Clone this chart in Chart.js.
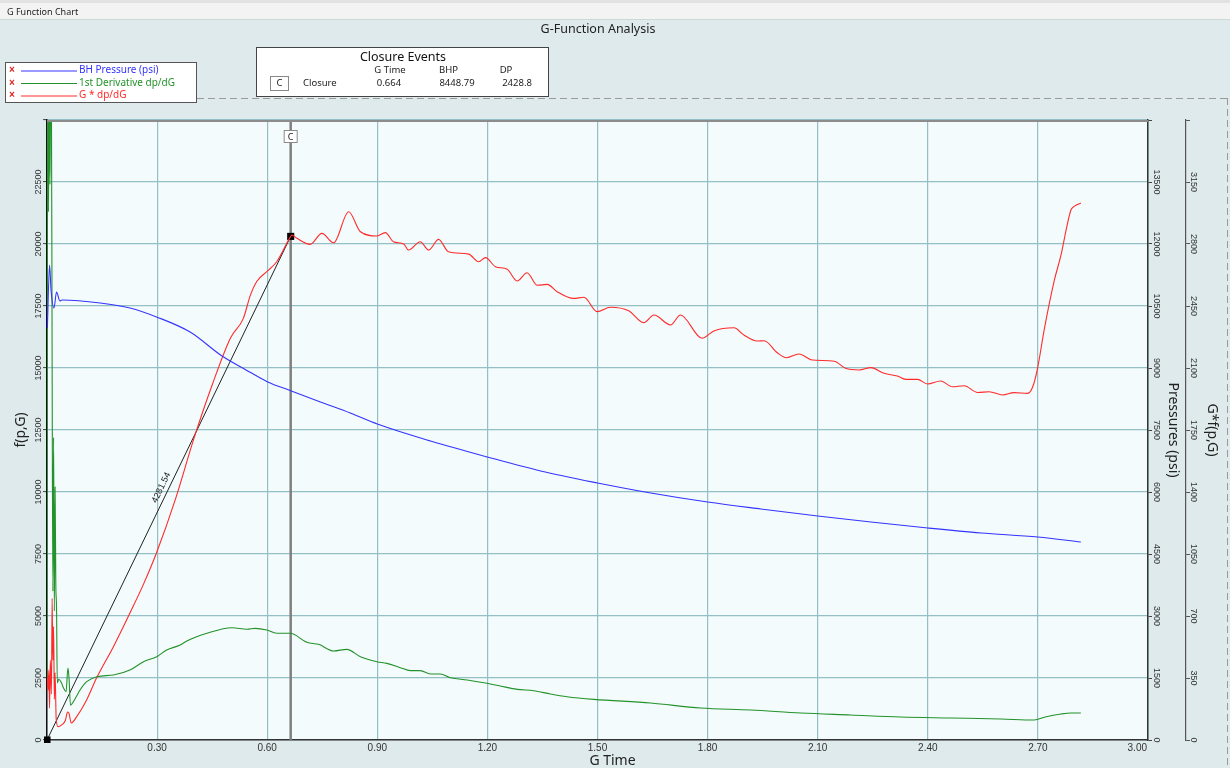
<!DOCTYPE html>
<html><head><meta charset="utf-8">
<script src="https://cdn.jsdelivr.net/npm/chart.js@4.4.1/dist/chart.umd.min.js"></script>
<style>html,body{margin:0;padding:0;background:#deeaeb;overflow:hidden}canvas{display:block}</style>
</head><body>
<canvas id="c" width="1230" height="768"></canvas>
<script>
// ---- data ----
const blueG = [0.001,0.007,0.011,0.019,0.026,0.035,0.041,0.145,0.226,0.300,0.390,0.477,0.540,0.600,0.664,0.745,0.826,0.900,1.045,1.200,1.345,1.500,1.645,1.800,1.945,2.100,2.245,2.400,2.545,2.700,2.817];
const blueP = [9968,11492,10887,10452,10839,10621,10645,10573,10452,10230,9870,9290,8965,8670,8449,8177,7911,7645,7234,6847,6508,6218,5976,5758,5589,5419,5274,5129,5008,4911,4790];

const greenG = [0.000,0.002,0.004,0.006,0.008,0.010,0.012,0.014,0.016,0.018,
  0.020,0.022,0.024,0.026,0.028,0.032,0.038,0.045,0.052,0.057,
  0.060,0.064,0.070,0.080,0.090,0.108,0.136,0.181,0.226,0.263,
  0.299,0.326,0.363,0.381,0.436,0.504,0.545,0.567,0.599,0.626,
  0.663,0.708,0.740,0.781,0.817,0.854,0.899,0.926,0.963,0.990,
  1.017,1.045,1.072,1.099,1.145,1.199,1.235,1.281,1.326,1.372,
  1.417,1.490,1.645,1.781,1.917,2.054,2.190,2.326,2.463,2.599,
  2.690,2.720,2.763,2.790,2.817];
const greenV = [2500,26000,21300,26000,22400,26000,26000,15000,6000,12200,
  5200,10200,6300,5300,2300,2450,2350,2100,1950,2900,
  2500,1400,1500,1750,2016,2352,2553,2621,2822,3157,
  3359,3629,3830,3992,4302,4529,4463,4503,4435,4302,
  4302,3938,3857,3589,3656,3360,3157,3091,2917,2796,
  2796,2661,2661,2513,2419,2285,2177,2043,1988,1855,
  1747,1640,1492,1290,1210,1089,1008,927,887,847,
  806,927,1048,1089,1089];

const redG = [0.000,0.003,0.005,0.007,0.009,0.012,0.014,0.016,0.018,0.020,0.022,0.025,0.030,0.040,0.050,0.056,0.060,0.066,0.081,0.108,
  0.135,0.181,0.226,0.263,0.299,0.350,0.400,0.450,0.500,0.535,0.554,0.572,0.599,0.626,0.664,
  0.667,0.681,0.717,0.749,0.781,0.822,0.854,0.899,0.922,0.944,0.972,0.985,1.017,1.040,1.067,1.094,1.149,1.176,1.195,1.222,
  1.254,1.281,1.308,1.336,1.363,1.390,1.435,1.463,1.499,1.535,1.585,1.626,1.654,1.699,1.726,1.785,1.817,1.872,1.899,1.935,
  1.954,1.990,2.015,2.049,2.085,2.145,2.176,2.213,2.245,2.281,2.317,2.340,2.372,2.399,2.435,2.467,2.499,2.536,2.567,2.604,
  2.635,2.672,2.686,2.699,2.717,2.745,2.763,2.778,2.790,2.800,2.817];
const redV = [395,280,395,180,450,260,800,450,640,230,380,120,75,85,110,158,150,96,132,226,
  350,527,717,880,1060,1360,1700,2004,2270,2380,2510,2590,2644,2700,2843,
  2851,2832,2798,2860,2807,2982,2869,2845,2864,2813,2800,2766,2813,2766,2826,2756,2743,2700,2723,2672,
  2657,2591,2638,2567,2572,2531,2493,2499,2418,2443,2423,2356,2399,2343,2399,2268,2309,2327,2286,2252,
  2254,2186,2158,2179,2145,2138,2098,2089,2102,2070,2055,2036,2036,2010,2027,1994,2000,1962,1966,1948,
  1961,1957,1994,2098,2314,2597,2738,2890,2992,3014,3031];

const closureG = 0.664, closureBHP = 8448.79, closureDP = 2428.8, tangentSlope = 4281.54;
const xMax = 3.0, xStep = 0.3;
const fMax = 25000, fStep = 2500;
const pMax = 15000, pStep = 1500;
const gfMax = 3500, gfStep = 350;

const seriesNames = ['BH Pressure (psi)', '1st Derivative dp/dG', 'G * dp/dG'];
const seriesColors = ['#3434ff', '#23922a', '#ff2a2a'];

const pts = (g, v) => g.map((x, i) => ({x, y: v[i]}));

// ---- helpers ----
function txt(ctx, s, x, y, font, color, align, baseline, angle) {
  ctx.save();
  ctx.translate(x, y);
  if (angle) ctx.rotate(angle);
  ctx.font = font; ctx.fillStyle = color;
  ctx.textAlign = align || 'center'; ctx.textBaseline = baseline || 'middle';
  ctx.fillText(s, 0, 0);
  ctx.restore();
}
const GRID = '#94bfc4';
const SANS = '"Noto Sans", "Liberation Sans", sans-serif';
const ARIAL = '"Liberation Sans", Arial, sans-serif';

const decor = {
  id: 'decor',
  beforeDraw(chart) {
    const {ctx, chartArea: a, width, height} = chart;
    ctx.save();
    ctx.fillStyle = '#deeaeb'; ctx.fillRect(0, 0, width, height);
    ctx.fillStyle = '#f3f3f3'; ctx.fillRect(0, 0, width, 19);
    ctx.fillStyle = '#e2e2e2'; ctx.fillRect(0, 0, width, 3);
    ctx.fillStyle = '#cfd8d8'; ctx.fillRect(0, 19, width, 1);
    txt(ctx, 'G Function Chart', 7, 12, '9px ' + SANS, '#222', 'left', 'middle');
    ctx.fillStyle = '#f3fbfc'; ctx.fillRect(a.left, a.top, a.right - a.left, a.bottom - a.top);
    ctx.restore();
  },
  beforeDatasetsDraw(chart) {
    const {ctx, chartArea: a} = chart;
    const cx = chart.scales.x.getPixelForValue(closureG);
    ctx.save();
    ctx.strokeStyle = '#7f7f7f'; ctx.lineWidth = 2.5;
    ctx.beginPath(); ctx.moveTo(cx, a.top); ctx.lineTo(cx, a.bottom); ctx.stroke();
    ctx.restore();
  },
  afterDraw(chart) {
    const {ctx, chartArea: a, width} = chart;
    const sx = chart.scales.x, sf = chart.scales.y, sp = chart.scales.yP, sg = chart.scales.yG;
    ctx.save();
    ctx.strokeStyle = '#8c8c8c'; ctx.lineWidth = 2;
    ctx.beginPath(); ctx.moveTo(a.left, a.top + 1); ctx.lineTo(a.right, a.top + 1); ctx.stroke();

    const cx = sx.getPixelForValue(closureG);
    ctx.fillStyle = '#ffffff'; ctx.fillRect(cx - 7, 130, 14, 13);
    ctx.strokeStyle = '#8a8a8a'; ctx.lineWidth = 1; ctx.strokeRect(cx - 6.5, 130.5, 13, 12);
    txt(ctx, 'C', cx, 137, '9px ' + SANS, '#222');

    // tangent label
    const x0 = sx.getPixelForValue(0), y0 = sg.getPixelForValue(0);
    const x1 = sx.getPixelForValue(closureG), y1 = sg.getPixelForValue(closureG * tangentSlope);
    const dx = x1 - x0, dy = y1 - y0, len = Math.hypot(dx, dy);
    const ang = Math.atan2(dy, dx);
    const t = 0.495, off = 7;
    const lx = x0 + dx * t + (dy / len) * off, ly = y0 + dy * t + (-dx / len) * off;
    txt(ctx, tangentSlope.toFixed(2), lx, ly, '9px ' + ARIAL, '#222', 'center', 'middle', ang);

    sx.ticks.forEach(tk => {
      if (tk.value <= 0) return;
      const px = sx.getPixelForValue(tk.value);
      const last = tk.value >= xMax - 1e-9;
      txt(ctx, tk.value.toFixed(2), last ? px - 1 : px, 748, '10px ' + ARIAL, '#333', last ? 'right' : 'center', 'middle');
    });
    txt(ctx, 'G Time', (a.left + a.right) / 2 + 15, 761, '14px ' + SANS, '#222');

    sf.ticks.forEach(tk => {
      if (tk.value >= fMax) return;
      txt(ctx, String(tk.value), 39, sf.getPixelForValue(tk.value), '9px ' + ARIAL, '#333', 'center', 'middle', -Math.PI / 2);
    });
    txt(ctx, 'f(p,G)', 21, 430, '14px ' + SANS, '#222', 'center', 'middle', -Math.PI / 2);

    sp.ticks.forEach(tk => {
      if (tk.value >= pMax) return;
      txt(ctx, String(tk.value), sp.left + 8, sp.getPixelForValue(tk.value), '9px ' + ARIAL, '#333', 'center', 'middle', Math.PI / 2);
    });
    txt(ctx, 'Pressures (psi)', sp.left + 25, 430, '14px ' + SANS, '#222', 'center', 'middle', Math.PI / 2);

    sg.ticks.forEach(tk => {
      if (tk.value >= gfMax) return;
      txt(ctx, String(tk.value), sg.left + 7, sg.getPixelForValue(tk.value), '9px ' + ARIAL, '#333', 'center', 'middle', Math.PI / 2);
    });
    txt(ctx, 'G*f(p,G)', sg.left + 26, 430, '14px ' + SANS, '#222', 'center', 'middle', Math.PI / 2);

    txt(ctx, 'G-Function Analysis', 598, 29, '12.5px ' + SANS, '#222');

    ctx.strokeStyle = '#9a9a9a'; ctx.lineWidth = 1; ctx.setLineDash([7, 4]);
    ctx.beginPath(); ctx.moveTo(197, 98.5); ctx.lineTo(width, 98.5); ctx.stroke();
    ctx.beginPath(); ctx.moveTo(1227.5, 98); ctx.lineTo(1227.5, 768); ctx.stroke();
    ctx.setLineDash([]);

    ctx.fillStyle = '#ffffff'; ctx.fillRect(5, 62, 192, 41);
    ctx.strokeStyle = '#555'; ctx.lineWidth = 1; ctx.strokeRect(5.5, 62.5, 191, 40);
    const rows = [70.5, 83, 95.5];
    seriesNames.forEach((n, i) => {
      txt(ctx, '\u00d7', 12, rows[i], 'bold 10px ' + ARIAL, '#e02020');
      ctx.strokeStyle = seriesColors[i]; ctx.lineWidth = 1;
      ctx.beginPath(); ctx.moveTo(21, rows[i] + 0.5); ctx.lineTo(77, rows[i] + 0.5); ctx.stroke();
      txt(ctx, n, 79, rows[i], '10px ' + SANS, seriesColors[i], 'left', 'middle');
    });

    ctx.fillStyle = '#ffffff'; ctx.fillRect(256, 47, 293, 50);
    ctx.strokeStyle = '#444'; ctx.strokeRect(256.5, 47.5, 292, 49);
    txt(ctx, 'Closure Events', 403, 57, '12.5px ' + SANS, '#111');
    txt(ctx, 'G Time', 390, 70.5, '9.5px ' + SANS, '#222');
    txt(ctx, 'BHP', 448.5, 70.5, '9.5px ' + SANS, '#222');
    txt(ctx, 'DP', 506, 70.5, '9.5px ' + SANS, '#222');
    ctx.fillStyle = '#fff'; ctx.fillRect(270, 76, 19, 15);
    ctx.strokeStyle = '#888'; ctx.strokeRect(270.5, 76.5, 18, 14);
    txt(ctx, 'C', 279.5, 83.5, '9.5px ' + SANS, '#222');
    txt(ctx, 'Closure', 303, 83.5, '9.5px ' + SANS, '#222', 'left', 'middle');
    txt(ctx, closureG.toFixed(3), 389, 83.5, '9.5px ' + SANS, '#222');
    txt(ctx, closureBHP.toFixed(2), 457, 83.5, '9.5px ' + SANS, '#222');
    txt(ctx, closureDP.toFixed(1), 517, 83.5, '9.5px ' + SANS, '#222');
    ctx.restore();
  }
};

const ctx = document.getElementById('c').getContext('2d');
new Chart(ctx, {
  type: 'line',
  data: {
    datasets: [
      {label: seriesNames[0], data: pts(blueG, blueP), yAxisID: 'yP', borderColor: seriesColors[0], borderWidth: 1.1, pointRadius: 0, cubicInterpolationMode: 'monotone'},
      {label: seriesNames[1], data: pts(greenG, greenV), yAxisID: 'y', borderColor: seriesColors[1], borderWidth: 1.1, pointRadius: 0, cubicInterpolationMode: 'monotone'},
      {label: seriesNames[2], data: pts(redG, redV), yAxisID: 'yG', borderColor: seriesColors[2], borderWidth: 1.1, pointRadius: 0, cubicInterpolationMode: 'monotone'},
      {label: 'Tangent', data: [{x: 0, y: 0}, {x: closureG, y: closureG * tangentSlope}], yAxisID: 'yG', clip: 3,
       borderColor: '#222', borderWidth: 1, pointStyle: 'rect', pointRadius: 5, pointBackgroundColor: '#000', pointBorderColor: '#000', pointBorderWidth: 0}
    ]
  },
  options: {
    responsive: false, animation: false, devicePixelRatio: 1,
    layout: {padding: {top: 120, left: 0, right: 0, bottom: 0}},
    plugins: {legend: {display: false}, tooltip: {enabled: false}, title: {display: false}},
    scales: {
      x: {type: 'linear', position: 'bottom', min: 0, max: xMax,
          ticks: {display: false, stepSize: xStep},
          grid: {color: GRID, lineWidth: 1.2, drawTicks: false},
          border: {display: true, color: '#333', width: 1.5},
          afterFit: s => { s.height = 28; }},
      y: {type: 'linear', position: 'left', min: 0, max: fMax,
          ticks: {display: false, stepSize: fStep},
          grid: {color: GRID, lineWidth: 1.2, tickLength: 4, tickColor: '#444', tickWidth: 1},
          border: {display: true, color: '#111', width: 1.5},
          afterFit: s => { s.width = 47; }},
      yP: {type: 'linear', position: 'right', weight: 0, min: 0, max: pMax,
          ticks: {display: false, stepSize: pStep},
          grid: {drawOnChartArea: false, tickLength: 4, tickColor: '#444', color: '#444'},
          border: {display: true, color: '#333', width: 1.5},
          afterFit: s => { s.width = 38; }},
      yG: {type: 'linear', position: 'right', weight: 1, min: 0, max: gfMax,
          ticks: {display: false, stepSize: gfStep},
          grid: {drawOnChartArea: false, tickLength: 4, tickColor: '#555', color: '#555'},
          border: {display: true, color: '#555', width: 1.2},
          afterFit: s => { s.width = 44; }}
    }
  },
  plugins: [decor]
});
</script>
</body></html>
